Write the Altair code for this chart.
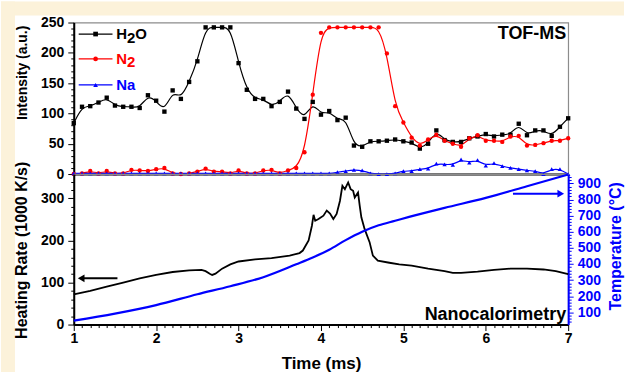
import altair as alt
import pandas as pd

# ---------------- data ----------------
time_ms = [1.0, 1.1, 1.2, 1.3, 1.4, 1.5, 1.6, 1.7, 1.8, 1.9,
           2.0, 2.1, 2.2, 2.3, 2.4, 2.5, 2.6, 2.7, 2.8, 2.9,
           3.0, 3.1, 3.2, 3.3, 3.4, 3.5, 3.6, 3.7, 3.8, 3.9,
           4.0, 4.1, 4.2, 4.3, 4.4, 4.5, 4.6, 4.7, 4.8, 4.9,
           5.0, 5.1, 5.2, 5.3, 5.4, 5.5, 5.6, 5.7, 5.8, 5.9,
           6.0, 6.1, 6.2, 6.3, 6.4, 6.5, 6.6, 6.7, 6.8, 6.9, 7.0]
h2o = [84, 111, 112, 118, 126, 113, 111, 111, 109, 130,
       121, 103, 138, 124, 152, 186, 242, 242, 242, 242,
       183, 139, 124, 124, 112, 119, 136, 108, 91, 119,
       98, 104, 89, 93, 47, 45, 54, 54, 55, 57,
       54, 52, 42, 50, 72, 56, 53, 53, 59, 62,
       66, 62, 65, 65, 83, 64, 72, 72, 63, 78, 92]
n2 = [0, 1, 5, 1, 5, 1, 1, 7, 6, 5,
      8, 10, 1, 0, 1, 4, 9, 4, 4, 1,
      6, 1, 1, 6, 7, 1, 6, 10, 36, 131,
      233, 242, 242, 242, 242, 242, 242, 242, 199, 112,
      85, 60, 47, 57, 65, 55, 50, 45, 59, 64,
      55, 55, 53, 62, 63, 47, 48, 51, 55, 55, 59]
na = [1, 1, 1, 1, 1, 1, 1, 1, 1, 1,
      1, 1, 1, 1, 1, 1, 1, 1, 1, 1,
      1, 1, 1, 1, 1, 1, 1, 1, 1, 1,
      1, 1, 3, 5, 7, 6, 1, 0, 0, 1,
      5, 5, 8, 9, 17, 16, 15, 24, 19, 23,
      14, 18, 13, 10, 8, 6, 5, 0, 8, 8, 0]

series_names = ["H\u2082O", "N\u2082", "Na"]
series_colors = ["#000000", "#ff0000", "#0000ff"]
series_shapes = ["square", "circle", "triangle-up"]

# legend text split into pieces so the "2" can be a full-size subscript
label_main = ["H", "N", "Na"]
label_sub = ["2", "2", ""]
label_tail = ["O", "", ""]

hr_time = [1.0, 1.2, 1.4, 1.6, 1.8, 2.0, 2.2, 2.4, 2.55, 2.6, 2.65, 2.68, 2.72,
           2.8, 2.9, 3.0, 3.2, 3.4, 3.62, 3.74, 3.78, 3.85, 3.89, 3.91, 3.93,
           3.97, 4.03, 4.07, 4.11, 4.15, 4.19, 4.23, 4.26, 4.29, 4.33, 4.36,
           4.39, 4.41, 4.45, 4.47, 4.49, 4.53, 4.59, 4.63, 4.69, 4.83, 4.95,
           5.1, 5.3, 5.5, 5.6, 5.7, 5.9, 6.1, 6.3, 6.5, 6.7, 6.85, 7.0]
hr_value = [72, 80, 90, 100, 110, 118, 125, 129, 130, 127, 121, 118, 121,
            133, 143, 150, 155, 158, 164, 170, 176, 200, 235, 261, 247,
            251, 259, 271, 264, 251, 263, 294, 330, 322, 338, 322,
            318, 302, 314, 283, 255, 227, 196, 164, 152, 147, 143,
            140, 133, 127, 123, 123, 126, 130, 133, 133, 131, 127, 120]

temp_time = [1.0, 1.5, 2.0, 2.5, 2.9, 3.3, 3.7, 3.9, 4.1, 4.3, 4.5, 4.7, 4.9,
             5.07, 5.5, 6.0, 6.5, 7.0]
temp_value = [48, 92, 145, 212, 262, 318, 398, 440, 488, 548, 600, 640, 668,
              692, 748, 810, 882, 955]

# legend entries (placed in data units of the top panel)
legend_value = [231, 190, 147]
legend_line_start = 1.06
legend_line_end = 1.47
legend_marker_time = 1.265
legend_text_time = 1.515

# arrows: tail time, tip time, level
hr_arrow = {"time": [1.53], "time2": [1.09], "hr": [110]}
temp_arrow = {"time": [6.33], "time2": [6.91], "temp": [836]}

top_label = {"time": [7.0], "value": [222], "text": ["TOF-MS"]}
bottom_label = {"time": [7.0], "hr": [11], "text": ["Nanocalorimetry"]}

# ---------------- styling ----------------
FONT = "Liberation Sans"
CREAM = "#FCF2DA"
BLUE = "#0000ff"
W = 496
H_TOP = 152
H_BOT = 151
LEG_FS = 15

top_df = pd.DataFrame({
    "time": time_ms * 3,
    "value": h2o + n2 + na,
    "series": [series_names[0]] * len(time_ms) + [series_names[1]] * len(time_ms)
              + [series_names[2]] * len(time_ms),
})
legend_df = pd.DataFrame({
    "series": series_names,
    "value": legend_value,
    "start": [legend_line_start] * 3,
    "end": [legend_line_end] * 3,
    "mid": [legend_marker_time] * 3,
    "tx": [legend_text_time] * 3,
    "main": label_main,
    "sub": label_sub,
    "tail": label_tail,
})

x_scale = alt.Scale(domain=[1, 7], nice=False, zero=False)
is_int = "abs(datum.value - round(datum.value)) < 0.001"

x_axis_top = alt.Axis(labels=False, ticks=False, title=None, domainColor="black",
                      domainWidth=2)
x_axis_bot = alt.Axis(
    values=time_ms,
    labelExpr=f"{is_int} ? format(datum.value, 'd') : ''",
    tickSize={"condition": {"test": is_int, "value": 6}, "value": 3},
    labelPadding=1, labelFlush=False, labelOverlap=False, labelFontSize=14,
    title="Time (ms)", titleFontSize=17, titleX=W / 2, titleY=31,
    titleBaseline="top",
)

top_y_axis = alt.Axis(
    values=list(range(0, 251, 10)),
    labelExpr="datum.value % 50 === 0 ? datum.label : ''",
    tickSize={"condition": {"test": "datum.value % 50 === 0", "value": 6}, "value": 3},
    labelPadding=4, labelFlush=False, labelOverlap=False, labelFontSize=14,
    title="Intensity (a.u.)", titleFontSize=14, titleX=-51, titleY=50,
    titleBaseline="middle",
)
hr_axis = alt.Axis(
    values=list(range(0, 341, 20)),
    labelExpr="datum.value % 100 === 0 ? datum.label : ''",
    tickSize={"condition": {"test": "datum.value % 100 === 0", "value": 6}, "value": 3},
    labelPadding=4, labelFlush=False, labelOverlap=False, labelFontSize=14,
    title="Heating Rate (1000 K/s)", titleFontSize=16, titleX=-52, titleY=76,
    titleBaseline="middle",
)
temp_axis = alt.Axis(
    orient="right",
    values=list(range(40, 941, 20)),
    labelExpr="datum.value % 100 === 0 ? datum.label : ''",
    tickSize={"condition": {"test": "datum.value % 100 === 0", "value": 5}, "value": 3},
    labelPadding=4, labelFlush=False, labelOverlap=False, labelFontSize=14,
    labelColor=BLUE, tickColor=BLUE, domainColor=BLUE, titleColor=BLUE,
    title="Temperature (\u00b0C)", titleFontSize=16, titleAngle=270,
    titleX=47.5, titleY=72, titleBaseline="middle",
)

y_top_scale = alt.Scale(domain=[0, 250], nice=False)
hr_scale = alt.Scale(domain=[0, 358], nice=False)
temp_scale = alt.Scale(domain=[24, 958], nice=False, zero=False)
color_scale = alt.Scale(domain=series_names, range=series_colors)
shape_scale = alt.Scale(domain=series_names, range=series_shapes)

# ---------------- top panel ----------------
one = pd.DataFrame({"k": [0]})
cream_top = alt.Chart(one).mark_rect(color=CREAM).encode(
    x=alt.value(-73), x2=alt.value(552), y=alt.value(-21), y2=alt.value(-7))
cream_left = alt.Chart(one).mark_rect(color=CREAM).encode(
    x=alt.value(-73), x2=alt.value(-59), y=alt.value(-21), y2=alt.value(351))

X_top = alt.X("time:Q", scale=x_scale, axis=x_axis_top)
Y_top = alt.Y("value:Q", scale=y_top_scale, axis=top_y_axis)
C_ser = alt.Color("series:N", scale=color_scale, legend=None)
S_ser = alt.Shape("series:N", scale=shape_scale, legend=None)

lines = alt.Chart(top_df).mark_line(interpolate="basis", strokeWidth=1.2).encode(
    x=X_top, y=Y_top, color=C_ser)
points = alt.Chart(top_df).mark_point(filled=True, size=19, opacity=1).encode(
    x=X_top, y=Y_top, color=C_ser, shape=S_ser)

X_txt = alt.X("tx:Q", scale=x_scale, axis=x_axis_top)
leg_rule = alt.Chart(legend_df).mark_rule(strokeWidth=1.3).encode(
    x=alt.X("start:Q", scale=x_scale, axis=x_axis_top), x2="end:Q", y=Y_top, color=C_ser)
leg_pt = alt.Chart(legend_df).mark_point(filled=True, size=22, opacity=1).encode(
    x=alt.X("mid:Q", scale=x_scale, axis=x_axis_top), y=Y_top, color=C_ser, shape=S_ser)
txt_style = dict(align="left", baseline="middle", fontSize=LEG_FS, font=FONT, fontWeight="bold")
leg_main = alt.Chart(legend_df).mark_text(**txt_style).encode(
    x=X_txt, y=Y_top, color=C_ser, text="main:N")
leg_sub = alt.Chart(legend_df).mark_text(dx=0.722 * LEG_FS, dy=3.5, **txt_style).encode(
    x=X_txt, y=Y_top, color=C_ser, text="sub:N")
leg_tail = alt.Chart(legend_df).mark_text(dx=(0.722 + 0.556) * LEG_FS, **txt_style).encode(
    x=X_txt, y=Y_top, color=C_ser, text="tail:N")

tof_text = alt.Chart(pd.DataFrame(top_label)).mark_text(
    align="right", baseline="alphabetic", dx=-2, fontSize=18, font=FONT,
    fontWeight="bold", color="black").encode(x=X_top, y=Y_top, text="text:N")

top = alt.layer(cream_top, cream_left, lines, points, leg_rule, leg_pt, leg_main,
                leg_sub, leg_tail, tof_text).properties(width=W, height=H_TOP)

# ---------------- bottom panel ----------------
X_bot = alt.X("time:Q", scale=x_scale, axis=x_axis_bot)
X_bot2 = alt.X("time2:Q", scale=x_scale, axis=x_axis_bot)
Y_hr = alt.Y("hr:Q", scale=hr_scale, axis=hr_axis)
Y_temp = alt.Y("temp:Q", scale=temp_scale, axis=temp_axis)

hr_line = alt.Chart(pd.DataFrame({"time": hr_time, "hr": hr_value})).mark_line(
    color="black", strokeWidth=1.8).encode(x=X_bot, y=Y_hr)
hr_rule = alt.Chart(pd.DataFrame(hr_arrow)).mark_rule(color="black", strokeWidth=2).encode(
    x=X_bot, x2="time2:Q", y=Y_hr)
hr_head = alt.Chart(pd.DataFrame(hr_arrow)).mark_point(
    shape="triangle-left", filled=True, size=60, color="black", opacity=1).encode(x=X_bot2, y=Y_hr)
nano_text = alt.Chart(pd.DataFrame(bottom_label)).mark_text(
    align="right", baseline="alphabetic", dx=-2, fontSize=18, font=FONT,
    fontWeight="bold", color="black").encode(x=X_bot, y=Y_hr, text="text:N")

temp_line = alt.Chart(pd.DataFrame({"time": temp_time, "temp": temp_value})).mark_line(
    color=BLUE, strokeWidth=2.2, interpolate="monotone").encode(x=X_bot, y=Y_temp)
temp_rule = alt.Chart(pd.DataFrame(temp_arrow)).mark_rule(color=BLUE, strokeWidth=2).encode(
    x=X_bot, x2="time2:Q", y=Y_temp)
temp_head = alt.Chart(pd.DataFrame(temp_arrow)).mark_point(
    shape="triangle-right", filled=True, size=60, color=BLUE, opacity=1).encode(x=X_bot2, y=Y_temp)

bottom = alt.layer(
    alt.layer(hr_line, hr_rule, hr_head, nano_text),
    alt.layer(temp_line, temp_rule, temp_head),
).resolve_scale(y="independent").properties(width=W, height=H_BOT)

chart = alt.vconcat(top, bottom, spacing=0, bounds="flush").properties(
    padding=0,
    background="white",
).configure_view(stroke="#8c8c8c", strokeWidth=1.2).configure_axis(
    labelFont=FONT, labelFontWeight="bold", labelColor="black",
    titleFont=FONT, titleFontWeight="bold", titleColor="black",
    tickColor="black", tickWidth=1, domainColor="black", domainWidth=2, grid=False,
)

chart.save("out.html", embed_options={"renderer": "svg", "actions": False})
